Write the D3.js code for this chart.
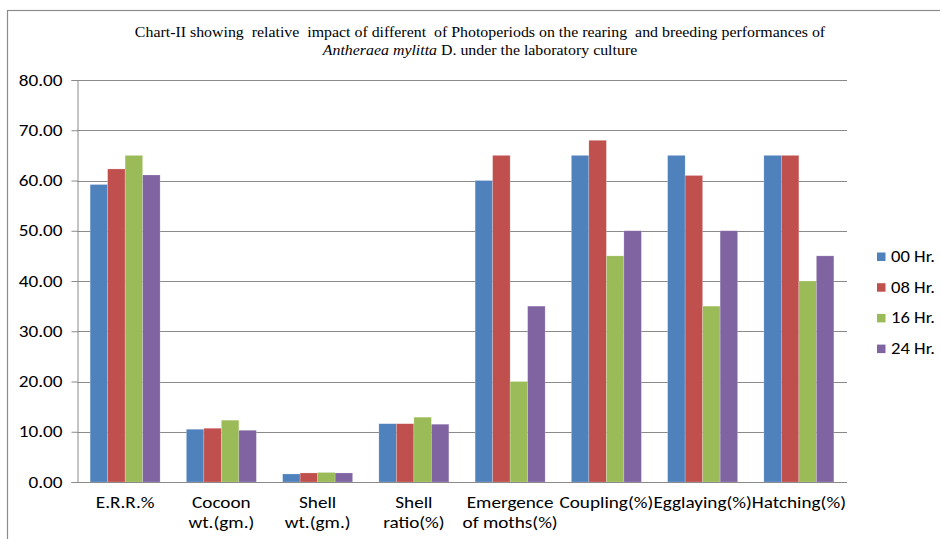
<!DOCTYPE html>
<html>
<head>
<meta charset="utf-8">
<script src="https://cdn.jsdelivr.net/npm/d3@7"></script>
<style>
  body { margin: 0; background: #fff; }
  svg { display: block; }
  .tick text { font-family: Calibri, Carlito, "Liberation Sans Narrow", "Liberation Sans", sans-serif; }
</style>
</head>
<body>
<div id="chart"></div>
<script>
(function() {
  // categories and series
  var categories = [
    ["E.R.R.%"],
    ["Cocoon", "wt.(gm.)"],
    ["Shell", "wt.(gm.)"],
    ["Shell", "ratio(%)"],
    ["Emergence", "of moths(%)"],
    ["Coupling(%)"],
    ["Egglaying(%)"],
    ["Hatching(%)"]
  ];
  var seriesNames = ["00 Hr.", "08 Hr.", "16 Hr.", "24 Hr."];
  var hr00 = [59.2, 10.5, 1.6, 11.6, 60, 65, 65, 65];
  var hr08 = [62.3, 10.7, 1.8, 11.6, 65, 68, 61, 65];
  var hr16 = [65.0, 12.3, 1.9, 12.9, 20, 45, 35, 40];
  var hr24 = [61.1, 10.3, 1.8, 11.5, 35, 50, 50, 45];
  var yTicks = [0, 10, 20, 30, 40, 50, 60, 70, 80];
  var colors = ["#4F81BD", "#C0504D", "#9BBB59", "#8064A2"];

  var series = [hr00, hr08, hr16, hr24];
  var W = 940, H = 539;
  var plot = { left: 77, right: 847, top: 80, bottom: 482 };
  var labelFont = "Calibri, Carlito, 'Liberation Sans Narrow', 'Liberation Sans', sans-serif";
  var stretch = 1.2;   // the picture's text is a bit wide, stretch it

  var svg = d3.select("#chart").append("svg")
    .attr("width", W).attr("height", H);

  // outer frame
  svg.append("rect")
    .attr("x", 7.5).attr("y", 10.5)
    .attr("width", 940).attr("height", 540)
    .attr("fill", "#fff")
    .attr("stroke", "#8c8c8c")
    .attr("stroke-width", 1.2);

  // title
  var title = svg.append("text")
    .attr("text-anchor", "middle")
    .attr("font-family", "'Liberation Serif', 'Times New Roman', serif")
    .attr("font-size", 15)
    .attr("fill", "#000")
    .style("white-space", "pre")
    .attr("transform", "translate(480,0) scale(1.06,1)");
  title.append("tspan").attr("x", 0).attr("y", 37)
    .text("Chart-II showing  relative  impact of different  of Photoperiods on the rearing  and breeding performances of");
  var t2 = title.append("tspan").attr("x", 0).attr("y", 55);
  t2.append("tspan").attr("font-style", "italic").text("Antheraea mylitta");
  t2.append("tspan").text(" D. under the laboratory culture");

  var x0 = d3.scaleBand()
    .domain(d3.range(categories.length))
    .range([plot.left, plot.right])
    .paddingInner(0).paddingOuter(0);

  var groupW = x0.bandwidth() * 4 / 5.5;
  var x1 = d3.scaleBand()
    .domain(d3.range(series.length))
    .range([0, groupW]);

  var y = d3.scaleLinear().domain([0, 80]).range([plot.bottom, plot.top]);

  // gridlines
  svg.append("g")
    .selectAll("line")
    .data(yTicks.filter(function(d) { return d > 0; }))
    .enter().append("line")
    .attr("x1", plot.left).attr("x2", plot.right)
    .attr("y1", function(d) { return Math.round(y(d)) + 0.5; })
    .attr("y2", function(d) { return Math.round(y(d)) + 0.5; })
    .attr("stroke", "#8a8a8a")
    .attr("stroke-width", 1);

  // y axis
  var yAxis = d3.axisLeft(y)
    .tickValues(yTicks)
    .tickFormat(d3.format(".2f"))
    .tickSize(6)
    .tickPadding(9);
  var yg = svg.append("g")
    .attr("transform", "translate(" + (plot.left + 0.5) + ",0)")
    .call(yAxis);
  yg.select(".domain").attr("stroke", "#8a8a8a");
  yg.selectAll(".tick line").attr("stroke", "#8a8a8a");
  yg.selectAll(".tick text")
    .attr("font-size", 16)
    .attr("fill", "#000")
    .attr("x", -15 / stretch)
    .attr("transform", "scale(" + stretch + ",1)")
    .style("font-family", labelFont);

  // bars
  var groups = svg.append("g").selectAll("g")
    .data(categories)
    .enter().append("g")
    .attr("transform", function(d, i) {
      return "translate(" + (x0(i) + (x0.bandwidth() - groupW) / 2) + ",0)";
    });

  groups.selectAll("rect")
    .data(function(d, i) {
      return series.map(function(s, k) { return { k: k, v: s[i] }; });
    })
    .enter().append("rect")
    .attr("x", function(d) { return x1(d.k); })
    .attr("width", x1.bandwidth())
    .attr("y", function(d) { return y(d.v); })
    .attr("height", function(d) { return y(0) - y(d.v); })
    .attr("fill", function(d) { return colors[d.k]; })
    .attr("stroke", "rgba(255,255,255,0.35)")
    .attr("stroke-width", 0.6);

  // x axis line
  svg.append("line")
    .attr("x1", plot.left).attr("x2", plot.right)
    .attr("y1", plot.bottom + 0.5).attr("y2", plot.bottom + 0.5)
    .attr("stroke", "#8a8a8a");

  // category labels
  var xl = svg.append("g").selectAll("text")
    .data(categories)
    .enter().append("text")
    .attr("text-anchor", "middle")
    .attr("font-family", labelFont)
    .attr("font-size", 16)
    .attr("fill", "#000")
    .attr("transform", function(d, i) {
      return "translate(" + (x0(i) + x0.bandwidth() / 2) + ",0) scale(" + stretch + ",1)";
    });
  xl.each(function(d) {
    var t = d3.select(this);
    d.forEach(function(line, j) {
      t.append("tspan")
        .attr("x", 0)
        .attr("y", 508 + j * 20)
        .text(line);
    });
  });

  // legend
  var legend = svg.append("g").selectAll("g")
    .data(seriesNames)
    .enter().append("g")
    .attr("transform", function(d, i) { return "translate(877," + (252.5 + i * 30.7) + ")"; });
  legend.append("rect")
    .attr("width", 8.5).attr("height", 8.5)
    .attr("fill", function(d, i) { return colors[i]; });
  legend.append("text")
    .attr("transform", "translate(14,9.5) scale(" + stretch + ",1)")
    .attr("font-family", labelFont)
    .attr("font-size", 15.5)
    .attr("fill", "#000")
    .text(function(d) { return d; });
})();
</script>
</body>
</html>
